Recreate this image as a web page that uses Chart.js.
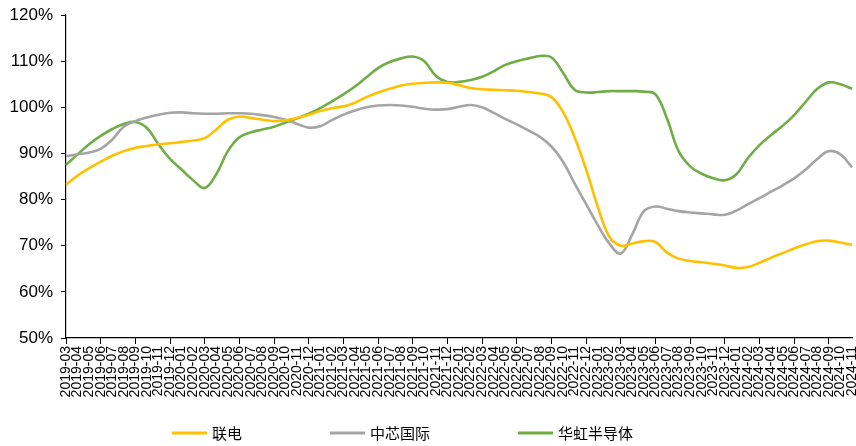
<!DOCTYPE html>
<html>
<head>
<meta charset="utf-8">
<script src="https://cdn.jsdelivr.net/npm/chart.js@4/dist/chart.umd.min.js"></script>
<style>
html,body{margin:0;padding:0;background:#fff;}
#wrap{width:856px;height:446px;position:relative;}
</style>
</head>
<body>
<div id="wrap"><canvas id="c" width="856" height="446"></canvas></div>
<script>
// categories: monthly 2019-03 .. 2024-11
const categories = [];
for (let y = 2019; y <= 2024; y++) {
  for (let m = 1; m <= 12; m++) {
    if (y === 2019 && m < 3) continue;
    if (y === 2024 && m > 11) continue;
    categories.push(y + '-' + String(m).padStart(2, '0'));
  }
}
const seriesNames = ['联电', '中芯国际', '华虹半导体'];
const umcValues = [83.2,85.2,86.8,88.2,89.5,90.5,91.2,91.6,92,92.2,92.5,92.8,93.3,95.2,97.3,98,97.7,97.3,97,97.2,97.7,98.4,99.2,99.8,100.2,101,102.2,103.2,104,104.7,105.1,105.3,105.4,105.3,104.8,104.2,103.9,103.8,103.7,103.6,103.3,103,102.2,99,93.5,86.5,78.5,72,70,70.5,71,70.8,68.5,67.2,66.7,66.4,66.1,65.7,65.2,65.4,66.3,67.4,68.4,69.4,70.3,71,71.1,70.7,70.2];
const smicValues = [89.4,89.8,90.2,91,93,95.8,97,97.8,98.4,98.8,98.9,98.7,98.6,98.6,98.7,98.7,98.6,98.3,97.9,97.3,96.4,95.6,95.9,97.2,98.4,99.3,100,100.4,100.5,100.4,100.1,99.7,99.5,99.6,100.1,100.5,100,98.8,97.5,96.3,95,93.6,91.5,88.2,83.5,79,74.5,70.5,68.3,72.5,77.5,78.5,78,77.5,77.2,77,76.8,76.7,77.6,79,80.3,81.7,83.1,84.6,86.5,88.8,90.5,89.8,87];
const huaValues = [87.5,89.8,92,93.8,95.3,96.4,96.8,95.5,92,88.8,86.5,84.2,82.5,85.5,90.5,93.5,94.6,95.2,95.8,96.7,97.6,98.6,99.8,101.3,102.8,104.5,106.5,108.5,109.8,110.6,111,110,106.8,105.5,105.5,105.9,106.6,107.8,109.2,110,110.6,111.1,110.8,107.5,103.8,103.2,103.3,103.5,103.5,103.5,103.4,102.8,97.5,90.5,87.2,85.6,84.6,84.2,85.5,89,91.8,94,96,98.3,101.2,104,105.4,105,104];
const yTicks = [50,60,70,80,90,100,110,120];

const colors = ['#FFC000', '#A5A5A5', '#70AD47'];
const allValues = [umcValues, smicValues, huaValues];

const datasets = allValues.map((vals, k) => ({
  label: seriesNames[k],
  data: vals,
  borderColor: colors[k],
  backgroundColor: colors[k],
  borderWidth: 2.6,
  pointRadius: 0,
  tension: 0.4,
  fill: false
}));

const FONT = '"Liberation Sans", Arial, sans-serif';
const CJK = '"Noto Sans CJK SC", "Noto Sans", sans-serif';

// simple bottom legend drawn on the canvas
const legendStarts = [172, 330, 518];
const bottomLegend = {
  id: 'bottomLegend',
  afterDraw(chart) {
    const ctx = chart.ctx;
    ctx.save();
    ctx.font = '15px ' + CJK;
    ctx.textBaseline = 'middle';
    ctx.textAlign = 'left';
    chart.data.datasets.forEach((ds, i) => {
      const x = legendStarts[i];
      const y = 433;
      ctx.fillStyle = ds.borderColor;
      ctx.fillRect(x, y - 1.5, 35, 3);
      ctx.fillStyle = '#000';
      ctx.fillText(ds.label, x + 40, y);
    });
    ctx.restore();
  }
};

new Chart(document.getElementById('c'), {
  type: 'line',
  data: { labels: categories, datasets: datasets },
  plugins: [bottomLegend],
  options: {
    responsive: false,
    animation: false,
    events: [],
    layout: { padding: { top: 15, right: 4, left: 0, bottom: 30 } },
    plugins: {
      legend: { display: false },
      tooltip: { enabled: false }
    },
    scales: {
      x: {
        type: 'category',
        offset: false,
        grid: {
          drawOnChartArea: false,
          drawTicks: true,
          tickLength: 6,
          tickColor: (ctx) => (ctx.index % 3 === 0 ? '#000' : 'rgba(0,0,0,0)'),
          tickWidth: 1
        },
        border: { display: true, color: '#000', width: 1.2 },
        ticks: {
          autoSkip: false,
          maxRotation: 90,
          minRotation: 90,
          padding: 2,
          color: '#000',
          font: { family: FONT, size: 14 }
        },
        afterFit: (s) => { s.height = 78; s.paddingLeft = 0; s.paddingRight = 0; }
      },
      y: {
        min: 50,
        max: 120,
        afterBuildTicks: (s) => { s.ticks = yTicks.map(v => ({ value: v })); },
        grid: {
          drawOnChartArea: false,
          drawTicks: true,
          tickLength: 5,
          tickColor: '#000'
        },
        border: { display: true, color: '#000', width: 1.2 },
        ticks: {
          padding: 8,
          color: '#000',
          font: { family: FONT, size: 17 },
          callback: (v) => v + '%'
        },
        afterFit: (s) => { s.width = 66; s.paddingTop = 0; s.paddingBottom = 0; }
      }
    }
  }
});
</script>
</body>
</html>
